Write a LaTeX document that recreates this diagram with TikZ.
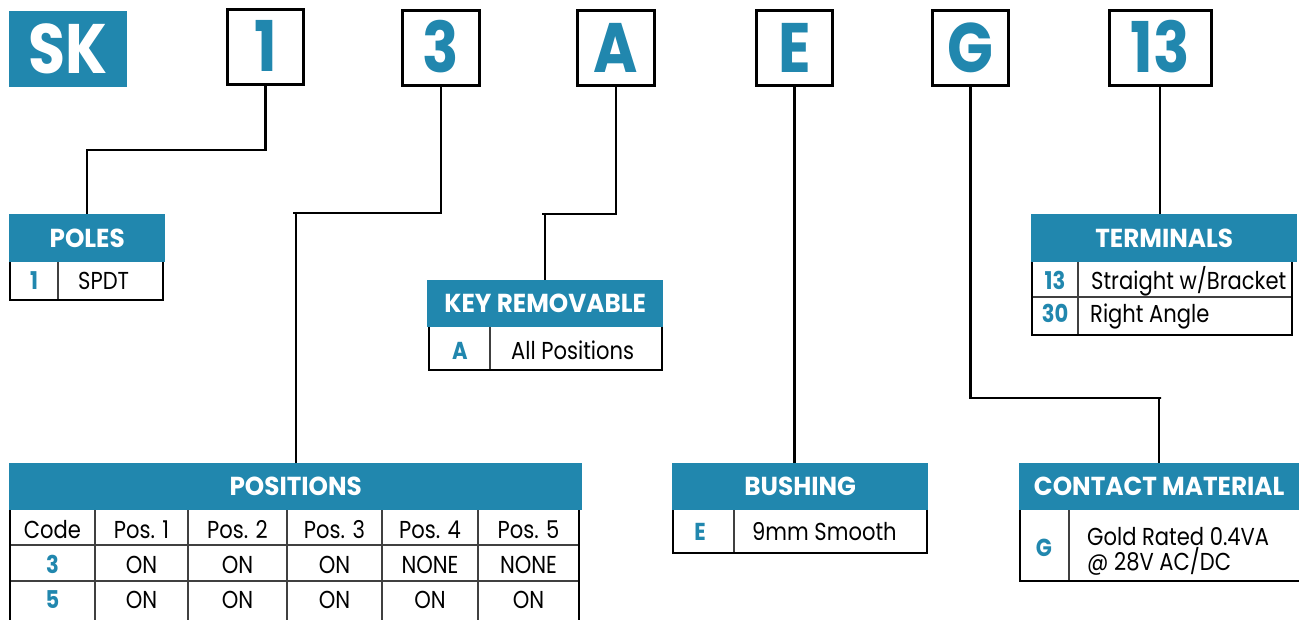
\documentclass[tikz,border=0pt]{standalone}
\usepackage{fontspec}
\setmainfont{Poppins}[FakeStretch=0.86]
\newfontfamily\hdrfont{Poppins}[FakeStretch=0.95]
\definecolor{skblue}{RGB}{33,135,174}
\tikzset{
  topbox/.style={draw=black, line width=3pt, minimum height=75pt, inner sep=0pt,
    text=skblue, font=\fontsize{70}{70}\selectfont\bfseries, text height=49pt, text depth=0pt},
  hdr/.style={fill=skblue, text=white, inner sep=0pt, anchor=north west,
    font=\hdrfont\fontsize{26}{26}\selectfont\bfseries, text height=18pt, text depth=0pt},
  txt/.style={inner sep=0pt, font=\fontsize{24.5}{28}\selectfont, text height=17pt, text depth=0pt},
  code/.style={txt, text=skblue, font=\fontsize{24.5}{28}\selectfont\bfseries},
  outer/.style={draw=black, line width=2.4pt},
  inner/.style={draw=black!75, line width=1.4pt},
  conn/.style={draw=black, line width=2.4pt},
}
\begin{document}
\begin{tikzpicture}[x=1pt, y=-1pt]
\useasboundingbox (0,0) rectangle (1299,619);

% SK
\node[fill=skblue, text=white, minimum width=118pt, minimum height=76pt, inner sep=0pt,
  font=\fontsize{70}{70}\selectfont\bfseries, text height=49pt, text depth=0pt] (sk) at (68,49) {SK};

% top boxes
\node[topbox, minimum width=76pt] (b1) at (265.5,47) {1};
\node[topbox, minimum width=77pt] (b3) at (441,48) {3};
\node[topbox, minimum width=77pt] (bA) at (616,48) {A};
\node[topbox, minimum width=76pt] (bE) at (794.5,48) {E};
\node[topbox, minimum width=76pt] (bG) at (970.5,48) {G};
\node[topbox, minimum width=102pt] (b13) at (1160,48) {13};

% headers
\node[hdr, minimum width=156pt, minimum height=48pt] (poles) at (9,214) {POLES};
\node[hdr, minimum width=236pt, minimum height=47pt] (key) at (427,280) {KEY REMOVABLE};
\node[hdr, minimum width=266pt, minimum height=48pt] (term) at (1031,214) {TERMINALS};
\node[hdr, minimum width=573pt, minimum height=47pt] (pos) at (9,463) {POSITIONS};
\node[hdr, minimum width=256pt, minimum height=47pt] (bush) at (672,463) {BUSHING};
\node[hdr, minimum width=280pt, minimum height=47pt] (cont) at (1019,463) {CONTACT MATERIAL};

% connectors
\draw[conn] (b1.south) |- (86,150) -| (poles.north);
\draw[conn] (b3.south) |- (293,213) -| (pos.north);
\draw[conn] (bA.south) |- (542,214) -| (key.north);
\draw[conn] (bE.south) -- (bE.south |- bush.north);
\draw[conn] (bG.south) |- (1161,398) -| (cont.north);
\draw[conn] (b13.south) -- (b13.south |- term.north);

% POLES body
\draw[inner] (58,262) -- (58,300);
\draw[outer] (10,262) -- (10,300) -- (163,300) -- (163,262);
\node[code] (p1c) at (34,281) {1};
\node[txt, anchor=west] (p1t) at (78,281) {SPDT};

% KEY body
\draw[inner] (490,327) -- (490,370);
\draw[outer] (429,327) -- (429,370) -- (662,370) -- (662,327);
\node[code] (kac) at (460,351) {A};
\node[txt, anchor=west] (kat) at (511,351) {All Positions};

% TERMINALS body
\draw[inner] (1078,262) -- (1078,335);
\draw[inner] (1032,297) -- (1292,297);
\draw[outer] (1032,262) -- (1032,335) -- (1292,335) -- (1292,262);
\node[code] (t13c) at (1055,281) {13};
\node[txt, anchor=west] (t13t) at (1091,281) {Straight w/Bracket};
\node[code] (t30c) at (1055,314) {30};
\node[txt, anchor=west] (t30t) at (1090,314) {Right Angle};

% POSITIONS body
\foreach \x in {95,188,287,382,478} \draw[inner] (\x,510) -- (\x,625);
\draw[inner] (10,545) -- (579,545);
\draw[inner] (10,581) -- (579,581);
\draw[outer] (10,510) -- (10,625);
\draw[outer] (579,510) -- (579,625);
\node[txt] (hc) at (52.5,530) {Code};
\node[txt] (h1) at (141.5,530) {Pos. 1};
\node[txt] (h2) at (237.5,530) {Pos. 2};
\node[txt] (h3) at (334.5,530) {Pos. 3};
\node[txt] (h4) at (430,530) {Pos. 4};
\node[txt] (h5) at (528.5,530) {Pos. 5};
\node[code] (r3c) at (52.5,565) {3};
\node[txt] (r31) at (141.5,565) {ON};
\node[txt] (r32) at (237.5,565) {ON};
\node[txt] (r33) at (334.5,565) {ON};
\node[txt] (r34) at (430,565) {NONE};
\node[txt] (r35) at (528.5,565) {NONE};
\node[code] (r5c) at (52.5,600) {5};
\node[txt] (r51) at (141.5,600) {ON};
\node[txt] (r52) at (237.5,600) {ON};
\node[txt] (r53) at (334.5,600) {ON};
\node[txt] (r54) at (430,600) {ON};
\node[txt] (r55) at (528.5,600) {ON};

% BUSHING body
\draw[inner] (734,510) -- (734,553);
\draw[outer] (673,510) -- (673,553) -- (927,553) -- (927,510);
\node[code] (bec) at (700,532) {E};
\node[txt, anchor=west] (bet) at (752,532) {9mm Smooth};

% CONTACT body
\draw[inner] (1069,510) -- (1069,581);
\draw[outer] (1020,510) -- (1020,581) -- (1305,581);
\node[code] (cgc) at (1044,548) {G};
\node[txt, anchor=west] (cg1) at (1087,537) {Gold Rated 0.4VA};
\node[txt, anchor=west] (cg2) at (1087,562) {@ 28V AC/DC};
\end{tikzpicture}
\end{document}
